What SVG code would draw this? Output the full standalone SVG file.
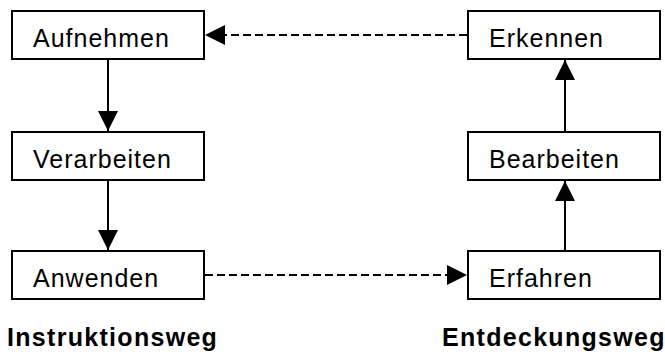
<svg xmlns="http://www.w3.org/2000/svg" width="665" height="356" viewBox="0 0 665 356">
  <style>
    .box { fill: #ffffff; stroke: #000000; stroke-width: 2; }
    .label { font-family: "Liberation Sans", Arial, sans-serif; font-size: 25px; letter-spacing: 1px; fill: #000000; }
    .title { font-family: "Liberation Sans", Arial, sans-serif; font-size: 25px; font-weight: bold; letter-spacing: 1.3px; fill: #000000; }
    .solid { stroke: #000000; stroke-width: 2; fill: none; }
    .dashed { stroke: #000000; stroke-width: 2; fill: none; stroke-dasharray: 8 4; }
  </style>
  <defs>
    <marker id="head" markerUnits="userSpaceOnUse" markerWidth="20" markerHeight="22" viewBox="0 0 20 22" refX="20" refY="11" orient="auto">
      <path d="M0,1 L20,11 L0,21 Z" fill="#000000"/>
    </marker>
  </defs>

  <rect width="665" height="356" fill="#ffffff"/>

  <!-- Connectors -->
  <g id="connectors">
    <line class="solid" x1="108" y1="60" x2="108" y2="131" marker-end="url(#head)"/>
    <line class="solid" x1="108" y1="181" x2="108" y2="250" marker-end="url(#head)"/>
    <line class="solid" x1="565" y1="250" x2="565" y2="181" marker-end="url(#head)"/>
    <line class="solid" x1="565" y1="131" x2="565" y2="60" marker-end="url(#head)"/>
    <line class="dashed" x1="467" y1="35" x2="205" y2="35" marker-end="url(#head)"/>
    <line class="dashed" x1="205" y1="275" x2="467" y2="275" marker-end="url(#head)"/>
  </g>

  <!-- Instruktionsweg column -->
  <g id="aufnehmen">
    <rect class="box" x="12" y="11" width="192" height="48"/>
    <text class="label" x="33" y="47">Aufnehmen</text>
  </g>
  <g id="verarbeiten">
    <rect class="box" x="12" y="132" width="192" height="48"/>
    <text class="label" x="33" y="168">Verarbeiten</text>
  </g>
  <g id="anwenden">
    <rect class="box" x="12" y="251" width="192" height="48"/>
    <text class="label" x="33" y="287">Anwenden</text>
  </g>

  <!-- Entdeckungsweg column -->
  <g id="erkennen">
    <rect class="box" x="468" y="11" width="192" height="48"/>
    <text class="label" x="489" y="47">Erkennen</text>
  </g>
  <g id="bearbeiten">
    <rect class="box" x="468" y="132" width="192" height="48"/>
    <text class="label" x="489" y="168">Bearbeiten</text>
  </g>
  <g id="erfahren">
    <rect class="box" x="468" y="251" width="192" height="48"/>
    <text class="label" x="489" y="287">Erfahren</text>
  </g>

  <!-- Column titles -->
  <g id="titles">
    <text class="title" x="7" y="346">Instruktionsweg</text>
    <text class="title" x="442" y="346">Entdeckungsweg</text>
  </g>
</svg>
